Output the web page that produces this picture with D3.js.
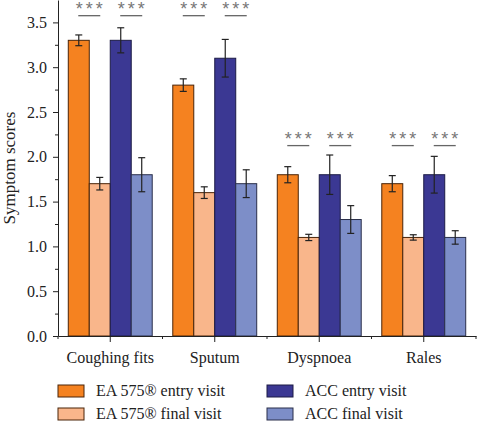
<!DOCTYPE html>
<html><head><meta charset="utf-8">
<script src="https://cdn.jsdelivr.net/npm/d3@7"></script>
<style>body{margin:0;background:#fff}svg{display:block}</style>
</head><body>
<svg id="c" width="477" height="425"></svg>
<script>
const categories = ["Coughing fits", "Sputum", "Dyspnoea", "Rales"];
const seriesNames = ["EA 575\u00AE entry visit", "EA 575\u00AE final visit", "ACC entry visit", "ACC final visit"];
const eaEntry = [3.30, 2.80, 1.80, 1.70];
const eaEntryErr = [0.06, 0.07, 0.09, 0.09];
const eaFinal = [1.70, 1.60, 1.10, 1.10];
const eaFinalErr = [0.07, 0.065, 0.035, 0.03];
const accEntry = [3.30, 3.10, 1.80, 1.80];
const accEntryErr = [0.14, 0.21, 0.22, 0.205];
const accFinal = [1.80, 1.70, 1.30, 1.10];
const accFinalErr = [0.19, 0.155, 0.155, 0.075];
const sigLevel = [3.575, 3.575, 2.125, 2.125];
const sigLabel = "***";
const yMajorTicks = [0, 0.5, 1.0, 1.5, 2.0, 2.5, 3.0, 3.5];
const yMinorTicks = [0.25, 0.75, 1.25, 1.75, 2.25, 2.75, 3.25];
const colors = ["#f58220", "#f9b68b", "#3b3893", "#7d8ec8"];
const strokes = ["#4a2408", "#4a2408", "#1c1b45", "#2a2f4a"];

const values = [eaEntry, eaFinal, accEntry, accFinal];
const errs = [eaEntryErr, eaFinalErr, accEntryErr, accFinalErr];

const svg = d3.select("#c");
const L = 58, R = 476, T = 0, B = 336;
const y = d3.scaleLinear().domain([0, 3.75]).range([B, T]);
const x0 = d3.scaleBand().domain(categories).range([L, R]).padding(0);
const x1 = d3.scaleBand().domain(d3.range(4)).range([0, x0.bandwidth()]).paddingInner(0).paddingOuter(0.49);
const serif = "'Liberation Serif', 'DejaVu Serif', serif";

// bars
categories.forEach((c, ci) => {
  const g = svg.append("g").attr("transform", `translate(${x0(c)},0)`);
  for (let s = 0; s < 4; s++) {
    const v = values[s][ci], e = errs[s][ci];
    const bx = x1(s), bw = x1.bandwidth();
    g.append("rect").attr("x", bx).attr("y", y(v)).attr("width", bw).attr("height", y(0) - y(v))
      .attr("fill", colors[s]).attr("stroke", strokes[s]).attr("stroke-width", 1);
    const cx = bx + bw / 2;
    g.append("line").attr("x1", cx).attr("x2", cx).attr("y1", y(v + e)).attr("y2", y(v - e))
      .attr("stroke", "#222").attr("stroke-width", 1.2);
    [v + e, v - e].forEach(t => g.append("line").attr("x1", cx - 3.5).attr("x2", cx + 3.5)
      .attr("y1", y(t)).attr("y2", y(t)).attr("stroke", "#222").attr("stroke-width", 1.2));
  }
  // significance
  [[0, 1], [2, 3]].forEach(([a, b]) => {
    const mx = x1(b);
    const ly = y(sigLevel[ci]);
    g.append("line").attr("x1", mx - 11).attr("x2", mx + 11).attr("y1", ly).attr("y2", ly)
      .attr("stroke", "#666").attr("stroke-width", 1.3);
    g.append("text").attr("x", mx + 1.5).attr("y", ly - 0.5).attr("text-anchor", "middle")
      .attr("font-family", "'Liberation Sans', Arial, sans-serif").attr("font-size", 18)
      .attr("letter-spacing", 3).attr("fill", "#777").text(sigLabel);
  });
});

// y axis
const yMaj = d3.axisLeft(y).tickValues(yMajorTicks).tickSize(5).tickSizeOuter(0).tickFormat(d3.format(".1f"));
const gy = svg.append("g").attr("transform", `translate(${L},0)`).call(yMaj);
gy.selectAll("text").attr("font-family", serif).attr("font-size", 16).attr("fill", "#222").attr("dx", "-3");
gy.selectAll("line,path").attr("stroke", "#222");
const yMin = d3.axisLeft(y).tickValues(yMinorTicks).tickSize(3).tickFormat("");
const gym = svg.append("g").attr("transform", `translate(${L},0)`).call(yMin);
gym.select("path").remove();
gym.selectAll("line").attr("stroke", "#222");

// x axis
const xAx = d3.axisBottom(x0).tickSize(6).tickSizeOuter(0);
const gx = svg.append("g").attr("transform", `translate(0,${B})`).call(xAx);
gx.selectAll("text").attr("font-family", serif).attr("font-size", 16).attr("fill", "#222").attr("dy", "1.1em");
gx.selectAll("line,path").attr("stroke", "#222");
const bounds = [L].concat(categories.map(c => x0(c) + x0.bandwidth()));
svg.append("g").selectAll("line").data(bounds).join("line")
  .attr("x1", d => d).attr("x2", d => d).attr("y1", B).attr("y2", B + 3).attr("stroke", "#222");

// y label
svg.append("text").attr("transform", `translate(15,${(T + B) / 2}) rotate(-90)`)
  .attr("text-anchor", "middle").attr("font-family", serif).attr("font-size", 17).attr("fill", "#222")
  .text("Symptom scores");

// legend
const legPos = [[58, 385], [58, 408], [267, 385], [267, 408]];
seriesNames.forEach((n, i) => {
  const [lx, ly] = legPos[i];
  svg.append("rect").attr("x", lx).attr("y", ly).attr("width", 26).attr("height", 12)
    .attr("fill", colors[i]).attr("stroke", strokes[i]).attr("stroke-width", 1);
  svg.append("text").attr("x", lx + 38).attr("y", ly + 11).attr("font-family", serif)
    .attr("font-size", 16).attr("fill", "#222").text(n);
});
</script>
</body></html>
